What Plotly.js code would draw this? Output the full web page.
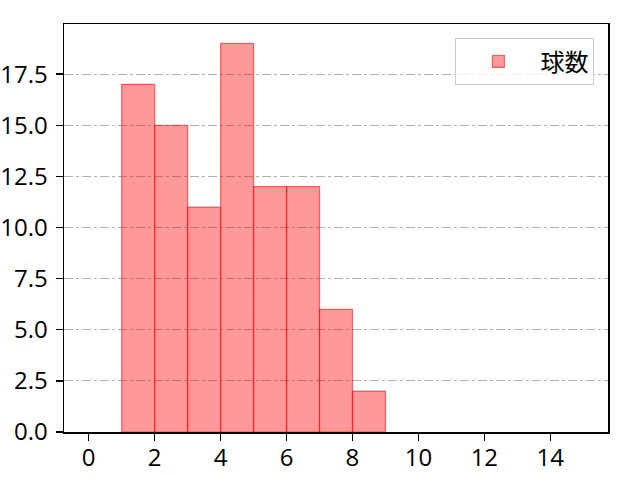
<!DOCTYPE html>
<html>
<head>
<meta charset="utf-8">
<script src="https://cdn.plot.ly/plotly-3.0.1.min.js"></script>
<style>
  html, body { margin:0; padding:0; background:#fff; }
  #chart { width:640px; height:480px; }
</style>
</head>
<body>
<div id="chart"></div>
<script>
// ── Data ──────────────────────────────────────────────────────────────────────
const binLeft  = [1, 2, 3, 4, 5, 6, 7, 8];
const counts   = [17, 15, 11, 19, 12, 12, 6, 2];
const seriesName = '球数';
const xTicks   = [0, 2, 4, 6, 8, 10, 12, 14];
const yTicks   = [0, 2.5, 5, 7.5, 10, 12.5, 15, 17.5];

// ── Styles ────────────────────────────────────────────────────────────────────
const TICKFONT = { family:'"Open Sans", "Noto Sans CJK JP", sans-serif', color:'#000', size:24 };
const AXIS = {
  showline:true, linecolor:'#000', linewidth:1.5, mirror:true,
  ticks:'outside', ticklen:7, tickwidth:1.3, tickcolor:'#000',
  zeroline:false, tickfont:TICKFONT,
};

const trace = {
  type:'bar', name:seriesName,
  x: binLeft.map(b => b + 0.5), y: counts, width: 1,
  marker:{ color:'rgba(255,0,0,0.4)', line:{ color:'rgba(255,0,0,0.55)', width:1.2 } },
};

Plotly.newPlot('chart', [trace], {
  width:640, height:480,
  paper_bgcolor:'#fff', plot_bgcolor:'#fff',
  font:{ family:'"Noto Sans CJK JP", sans-serif', color:'#000', size:24 },
  margin:{ l:64, r:32, t:24, b:48 },
  bargap:0,
  showlegend:true,
  legend:{ x:0.975, y:0.965, xanchor:'right', yanchor:'top',
           bgcolor:'rgba(255,255,255,0.8)', bordercolor:'#ccc', borderwidth:1,
           font:{ size:24 }, itemwidth:74 },
  xaxis:{ ...AXIS, range:[-0.75, 15.75], tickvals:xTicks, showgrid:false, ticklabelstandoff:-3 },
  yaxis:{ ...AXIS, range:[0, 19.95], tickvals:yTicks, tickformat:'.1f', ticklabelstandoff:3,
          showgrid:true, gridcolor:'#b0b0b0', gridwidth:1, griddash:'dashdot' },
}, { displayModeBar:false, staticPlot:true });
</script>
</body>
</html>
